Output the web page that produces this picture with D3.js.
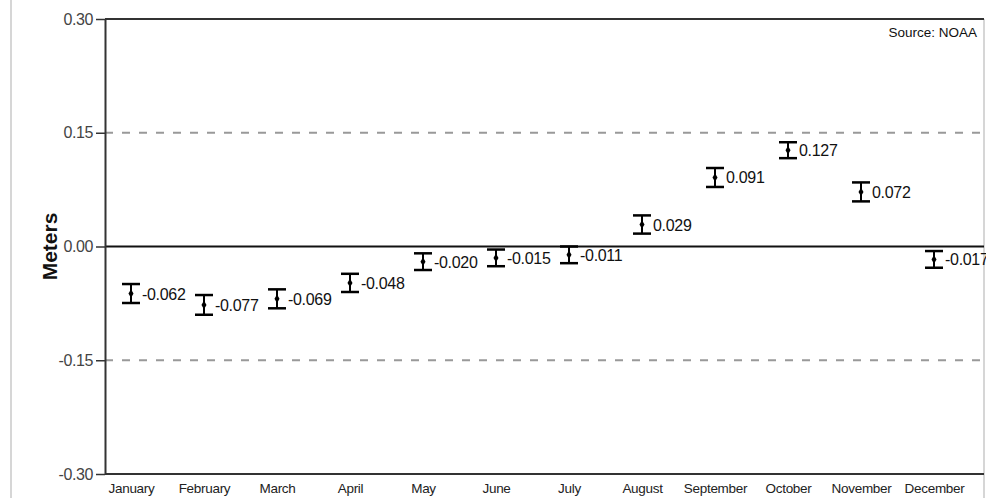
<!DOCTYPE html>
<html>
<head>
<meta charset="utf-8">
<script src="https://cdn.jsdelivr.net/npm/d3@7/dist/d3.min.js"></script>
<style>
  html, body { margin: 0; padding: 0; background: #fff; }
  svg { display: block; }
  text { font-family: "Liberation Sans", Arial, sans-serif; }
</style>
</head>
<body>
<svg id="chart" width="986" height="498"></svg>
<script>
// Monthly mean sea level anomaly (meters) with error bars
const months = ["January", "February", "March", "April", "May", "June",
                "July", "August", "September", "October", "November", "December"];
const means  = [-0.062, -0.077, -0.069, -0.048, -0.020, -0.015,
                -0.011, 0.029, 0.091, 0.127, 0.072, -0.017];
const errors = [0.0125, 0.013, 0.0125, 0.012, 0.011, 0.011,
                0.011, 0.012, 0.0125, 0.0105, 0.0125, 0.011];
const yTicks = [0.30, 0.15, 0.00, -0.15, -0.30];
const refLines = [0.15, -0.15];

const svg = d3.select("#chart");
const L = 105, T = 19, B = 474, R = 984;
const hyphen = s => s.replace(/\u2212/g, "-");

const x = d3.scalePoint().domain(months).range([L, 960]).padding(0.356);
const y = d3.scaleLinear().domain([-0.30, 0.30]).range([B, T]);

// outer frame edges
svg.append("line").attr("x1", 11).attr("x2", 11).attr("y1", 0).attr("y2", 498)
  .attr("stroke", "#c8c8c8").attr("stroke-width", 1.5);
svg.append("line").attr("x1", R).attr("x2", R).attr("y1", T).attr("y2", 498)
  .attr("stroke", "#c8c8c8").attr("stroke-width", 1.5);

// dashed reference lines
svg.selectAll(".ref").data(refLines).enter().append("line")
  .attr("x1", L).attr("x2", R)
  .attr("y1", d => y(d)).attr("y2", d => y(d))
  .attr("stroke", "#999").attr("stroke-width", 2)
  .attr("stroke-dasharray", "8,9");

// zero line
svg.append("line").attr("x1", L).attr("x2", R)
  .attr("y1", y(0)).attr("y2", y(0))
  .attr("stroke", "#111").attr("stroke-width", 2);

// top and bottom frame lines
svg.append("line").attr("x1", L).attr("x2", R).attr("y1", T).attr("y2", T)
  .attr("stroke", "#333").attr("stroke-width", 2);
svg.append("line").attr("x1", L).attr("x2", R).attr("y1", B).attr("y2", B)
  .attr("stroke", "#333").attr("stroke-width", 2);

// y axis
const yAxis = d3.axisLeft(y).tickValues(yTicks)
  .tickFormat(d => hyphen(d3.format(".2f")(d)))
  .tickSizeInner(9).tickSizeOuter(0).tickPadding(3);
const gy = svg.append("g").attr("transform", `translate(${L},0)`).call(yAxis);
gy.select(".domain").attr("stroke", "#333").attr("stroke-width", 2);
gy.selectAll(".tick line").attr("stroke", "#333").attr("stroke-width", 1.5);
gy.selectAll(".tick text").attr("font-size", 16).attr("fill", "#444")
  .attr("font-family", "'Liberation Sans', Arial, sans-serif")
  .attr("letter-spacing", -0.4);

// x axis labels
const xAxis = d3.axisBottom(x).tickSize(0).tickPadding(9);
const gx = svg.append("g").attr("transform", `translate(0,${B})`).call(xAxis);
gx.select(".domain").remove();
gx.selectAll(".tick text").attr("font-size", 13.5).attr("fill", "#222")
  .attr("font-family", "'Liberation Sans', Arial, sans-serif")
  .attr("letter-spacing", -0.3);

// y axis title
svg.append("text")
  .attr("transform", `translate(57,${y(0)}) rotate(-90)`)
  .attr("text-anchor", "middle")
  .attr("font-size", 21).attr("font-weight", "bold").attr("fill", "#111")
  .text("Meters");

// source note
svg.append("text").attr("x", 977).attr("y", 37).attr("text-anchor", "end")
  .attr("font-size", 13.5).attr("fill", "#111")
  .text("Source: NOAA");

// error bars with markers and value labels
const data = months.map((m, i) => ({ m, v: means[i], e: errors[i] }));
const g = svg.append("g").selectAll("g").data(data).enter().append("g");
const capW = 9;
g.append("line")
  .attr("x1", d => x(d.m)).attr("x2", d => x(d.m))
  .attr("y1", d => y(d.v + d.e)).attr("y2", d => y(d.v - d.e))
  .attr("stroke", "#000").attr("stroke-width", 2);
g.append("line")
  .attr("x1", d => x(d.m) - capW).attr("x2", d => x(d.m) + capW)
  .attr("y1", d => y(d.v + d.e)).attr("y2", d => y(d.v + d.e))
  .attr("stroke", "#000").attr("stroke-width", 2.5);
g.append("line")
  .attr("x1", d => x(d.m) - capW).attr("x2", d => x(d.m) + capW)
  .attr("y1", d => y(d.v - d.e)).attr("y2", d => y(d.v - d.e))
  .attr("stroke", "#000").attr("stroke-width", 2.5);
g.append("path")
  .attr("d", d3.symbol().type(d3.symbolDiamond).size(22))
  .attr("transform", d => `translate(${x(d.m)},${y(d.v)})`)
  .attr("fill", "#000");
g.append("text")
  .attr("x", d => x(d.m) + 11)
  .attr("y", d => y(d.v) + 6)
  .attr("font-size", 16).attr("fill", "#111").attr("letter-spacing", -0.3)
  .text(d => hyphen(d3.format(".3f")(d.v)));
</script>
</body>
</html>
